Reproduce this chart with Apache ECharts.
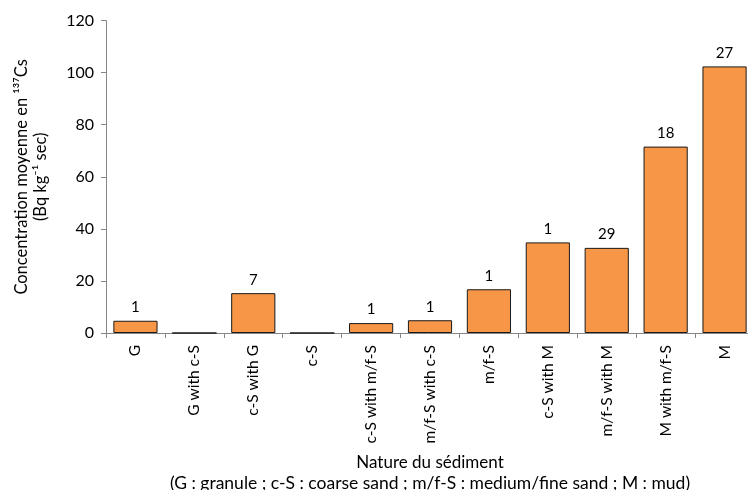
<!DOCTYPE html>
<html><head><meta charset="utf-8">
<script src="https://cdn.jsdelivr.net/npm/echarts@6/dist/echarts.min.js"></script>
<style>html,body{margin:0;padding:0;background:#fff}#c{width:748px;height:490px}</style>
</head><body><div id="c"></div>
<script>
const categories = ['G','G with c-S','c-S with G','c-S','c-S with m/f-S','m/f-S with c-S','m/f-S','c-S with M','m/f-S with M','M with m/f-S','M'];
const values = [4.7, 0, 15.3, 0, 3.8, 4.9, 16.8, 34.8, 32.7, 71.6, 102.4];
const counts = ['1','','7','','1','1','1','1','29','18','27'];
const yTicks = [0,20,40,60,80,100,120];
const FONT = 'Lato';
const chart = echarts.init(document.getElementById('c'));
chart.setOption({
  animation:false,
  textStyle:{fontFamily:FONT},
  grid:{left:106, top:20.6, width:648, height:312.4, containLabel:false, outerBoundsMode:'none'},
  xAxis:{
    type:'category', data:categories,
    axisLine:{lineStyle:{color:'#868686',width:1}},
    axisTick:{show:true, length:5, lineStyle:{color:'#868686'}},
    axisLabel:{rotate:90, fontSize:15.5, color:'#000', fontFamily:FONT, margin:12, interval:0},
    name:'{a|Nature du sédiment}\n{b|(G : granule ; c-S : coarse sand ; m/f-S : medium/fine sand ; M : mud)}',
    nameLocation:'middle', nameGap:119,
    nameTextStyle:{color:'#000', fontFamily:FONT, fontSize:17, verticalAlign:'top',
      rich:{a:{fontSize:17, lineHeight:21, fontFamily:FONT, color:'#000'}, b:{fontSize:17.5, lineHeight:21, fontFamily:FONT, color:'#000'}}}
  },
  yAxis:{
    type:'value', min:yTicks[0], max:yTicks[yTicks.length-1], interval:20,
    axisLine:{show:true, lineStyle:{color:'#868686'}},
    axisTick:{show:true, length:5, lineStyle:{color:'#868686'}},
    splitLine:{show:false},
    axisLabel:{fontSize:16, color:'#000', fontFamily:FONT, margin:12},
    name:'Concentration moyenne en ¹³⁷Cs\n(Bq kg⁻¹ sec)',
    nameLocation:'middle', nameRotate:90, nameGap:56,
    nameTextStyle:{fontSize:16.5, color:'#000', fontFamily:FONT, lineHeight:19}
  },
  series:[{
    type:'bar', data:values, barCategoryGap:'25%',
    itemStyle:{color:'#F79646', borderColor:'#1a1a1a', borderWidth:1},
    label:{show:true, position:'top', distance:6, fontSize:15, color:'#000', fontFamily:FONT,
      formatter:p=>counts[p.dataIndex]}
  }]
});
</script></body></html>
